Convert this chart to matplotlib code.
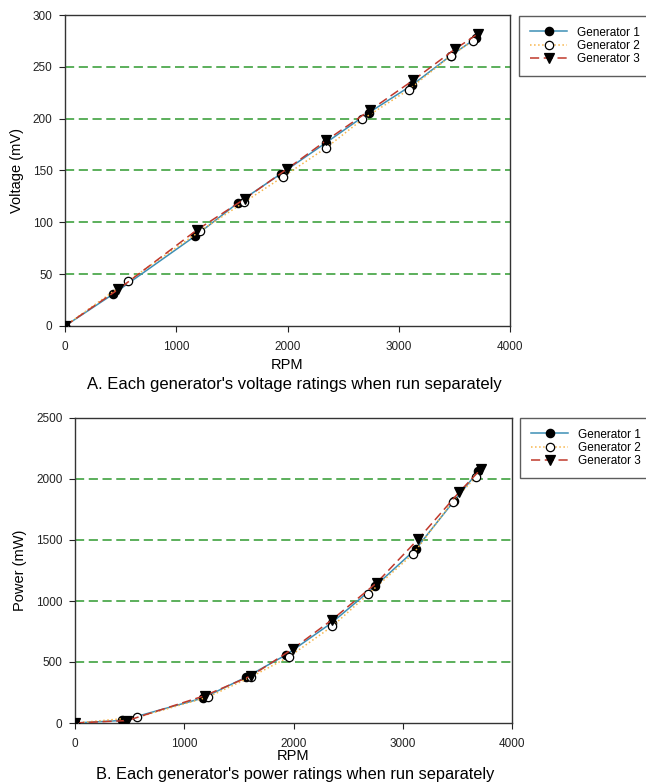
import numpy as np
import matplotlib
matplotlib.use("Agg")
import matplotlib.pyplot as plt

plt.rcParams["font.family"] = ["Liberation Sans", "DejaVu Sans"]

# voltage data (RPM, mV)
rpm_v1 = [0, 430, 1170, 1557, 1938, 2349, 2730, 3120, 3466, 3693]
volt_1 = [0, 30.6, 86.8, 119, 146.6, 177, 205.7, 232.4, 260.7, 277.4]
rpm_v2 = [0, 570, 1215, 1608, 1956, 2349, 2673, 3090, 3466, 3663]
volt_2 = [0, 43.7, 91.6, 119.3, 143.7, 172, 199.3, 228, 260.5, 275]
rpm_v3 = [0, 480, 1185, 1614, 1995, 2349, 2740, 3129, 3504, 3714]
volt_3 = [0, 35.4, 92.6, 122.5, 151.4, 179, 208, 237, 267, 282]

# power data (RPM, mW)
rpm_p1 = [0, 434, 1172, 1569, 1935, 2348, 2745, 3120, 3471, 3691]
pow_1 = [0, 21, 205, 377, 560, 820, 1120, 1426, 1822, 2062]
rpm_p2 = [0, 571, 1218, 1609, 1956, 2354, 2684, 3096, 3457, 3669]
pow_2 = [0, 46, 213, 377, 541, 792, 1057, 1387, 1815, 2016]
rpm_p3 = [0, 480, 1187, 1615, 1996, 2354, 2760, 3142, 3517, 3716]
pow_3 = [0, 20, 224, 388, 609, 847, 1148, 1508, 1893, 2082]

labels = ["Generator 1", "Generator 2", "Generator 3"]
c1, c2, c3 = "#3d8fb5", "#f7b54a", "#c0392b"
grid_c = "#2f9a2f"
W, H = 646, 782


def draw(ax, xs, ys, yticks, ylabel, ylab_x, xlab_y, leg_xy):
    styles = [
        dict(color=c1, ls="-", marker="o", mfc="black", mec="black", ms=6),
        dict(color=c2, ls=":", marker="o", mfc="white", mec="black", ms=6),
        dict(color=c3, ls=(0, (6, 3)), marker="v", mfc="black", mec="black", ms=6.5),
    ]
    for x, y, st, lab in zip(xs, ys, styles, labels):
        ax.plot(x, y, lw=1.1, mew=0.9, label=lab, zorder=3, **st)
    for g in yticks[1:-1]:
        ax.axhline(g, color=grid_c, ls=(0, (6, 3)), lw=1.1, zorder=1)
    ax.set_xlim(0, 4000)
    ax.set_ylim(yticks[0], yticks[-1])
    ax.set_xticks([0, 1000, 2000, 3000, 4000])
    ax.set_yticks(yticks)
    ax.tick_params(direction="out", length=4, labelsize=8.5, colors="#222222")
    ax.tick_params(axis="x", pad=7)
    ax.tick_params(axis="y", pad=5)
    for s in ax.spines.values():
        s.set_color("#333333")
        s.set_linewidth(1.0)
    ax.set_ylabel(ylabel, fontsize=10.5)
    ax.yaxis.set_label_coords(ylab_x, 0.5)
    ax.yaxis.label.set_va("center")
    ax.set_xlabel("RPM", fontsize=10.5)
    ax.xaxis.set_label_coords(0.5, xlab_y)
    ax.xaxis.label.set_va("center")
    leg = ax.legend(loc="upper left", bbox_to_anchor=(leg_xy[0] / W, 1 - leg_xy[1] / H),
                    bbox_transform=ax.figure.transFigure, fontsize=8.5,
                    handlelength=3.2, handletextpad=0.8, borderpad=0.9,
                    labelspacing=0.12, frameon=True, fancybox=False,
                    borderaxespad=0, markerscale=1.0)
    leg.get_frame().set_edgecolor("#333333")
    leg.get_frame().set_linewidth(1.0)


fig = plt.figure(figsize=(W / 100, H / 100), dpi=100)
ax1 = fig.add_axes([65 / W, 1 - 326 / H, 445 / W, 311 / H])
ax2 = fig.add_axes([75 / W, 1 - 723 / H, 437 / W, 305 / H])

draw(ax1, [rpm_v1, rpm_v2, rpm_v3], [volt_1, volt_2, volt_3],
     [0, 50, 100, 150, 200, 250, 300], "Voltage (mV)",
     (17 - 65) / 445, -(365 - 326) / 311, (519, 16))
draw(ax2, [rpm_p1, rpm_p2, rpm_p3], [pow_1, pow_2, pow_3],
     [0, 500, 1000, 1500, 2000, 2500], "Power (mW)",
     (20 - 75) / 437, -(756 - 723) / 305, (520, 418))

fig.text(294 / W, 1 - 385 / H, "A. Each generator's voltage ratings when run separately",
         ha="center", va="center", fontsize=12)
fig.text(295 / W, 1 - 774 / H, "B. Each generator's power ratings when run separately",
         ha="center", va="center", fontsize=11.8)

fig.savefig("out.png", dpi=100)
